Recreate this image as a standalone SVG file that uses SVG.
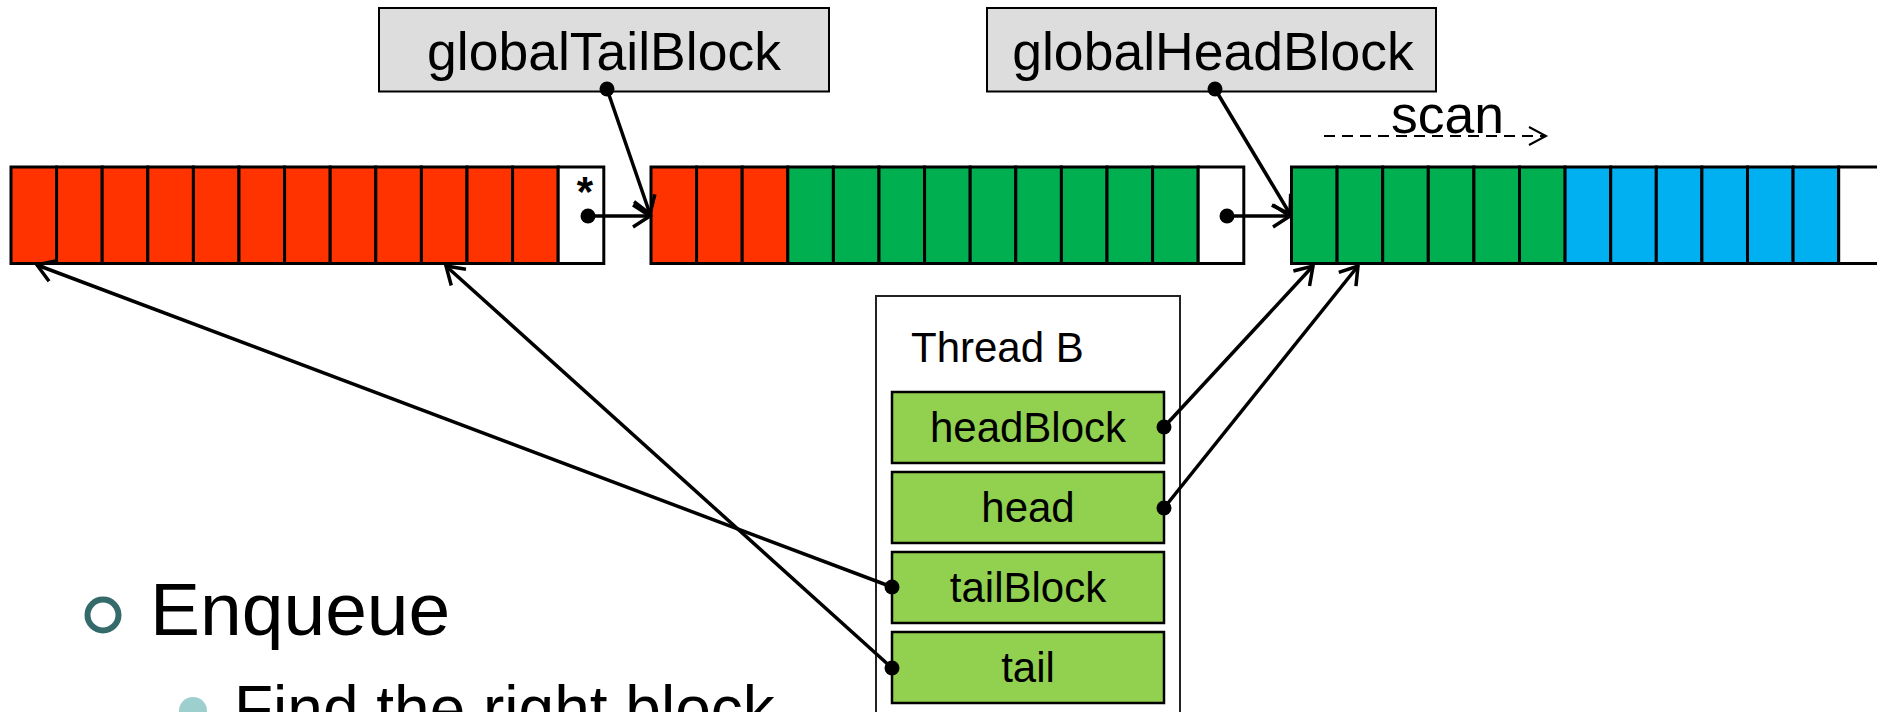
<svg xmlns="http://www.w3.org/2000/svg" width="1877" height="712" viewBox="0 0 1877 712">
<style>
text{font-family:"Liberation Sans",Arial,sans-serif;fill:#000}
.c{stroke:#000;stroke-width:3}
.r{fill:#FF3300}.g{fill:#00B050}.b{fill:#00B0F0}.w{fill:#FFFFFF}
.gl{fill:#DDDDDD;stroke:#000;stroke-width:2}
.var{fill:#92D050;stroke:#000;stroke-width:2.5}
.ln{stroke:#000;stroke-width:3.5;fill:none}
.big{font-size:53.5px}
.mid{font-size:42px}
</style>
<defs>
<marker id="arr" markerUnits="userSpaceOnUse" markerWidth="40" markerHeight="40" refX="20" refY="20" orient="auto" overflow="visible">
<path d="M3,9 L20,20 L3,31" fill="none" stroke="#000" stroke-width="3.5" stroke-linejoin="miter"/>
</marker>
<marker id="arrs" markerUnits="userSpaceOnUse" markerWidth="40" markerHeight="40" refX="20" refY="20" orient="auto" overflow="visible">
<path d="M3,11 L20,20 L3,29" fill="none" stroke="#000" stroke-width="2"/>
</marker>
</defs>
<rect width="1877" height="712" fill="#FFFFFF"/>

<g id="block1">
<rect class="c r" x="11" y="167" width="45.6" height="96.5"/>
<rect class="c r" x="56.6" y="167" width="45.6" height="96.5"/>
<rect class="c r" x="102.2" y="167" width="45.6" height="96.5"/>
<rect class="c r" x="147.8" y="167" width="45.6" height="96.5"/>
<rect class="c r" x="193.4" y="167" width="45.6" height="96.5"/>
<rect class="c r" x="239" y="167" width="45.6" height="96.5"/>
<rect class="c r" x="284.6" y="167" width="45.6" height="96.5"/>
<rect class="c r" x="330.2" y="167" width="45.6" height="96.5"/>
<rect class="c r" x="375.8" y="167" width="45.6" height="96.5"/>
<rect class="c r" x="421.4" y="167" width="45.6" height="96.5"/>
<rect class="c r" x="467" y="167" width="45.6" height="96.5"/>
<rect class="c r" x="512.6" y="167" width="45.6" height="96.5"/>
<rect class="c w" x="558.2" y="167" width="45.6" height="96.5"/>
<text x="585" y="206" font-size="42" font-weight="bold" text-anchor="middle">*</text>
</g>

<g id="block2">
<rect class="c r" x="651" y="167" width="45.6" height="96.5"/>
<rect class="c r" x="696.6" y="167" width="45.6" height="96.5"/>
<rect class="c r" x="742.2" y="167" width="45.6" height="96.5"/>
<rect class="c g" x="787.8" y="167" width="45.6" height="96.5"/>
<rect class="c g" x="833.4" y="167" width="45.6" height="96.5"/>
<rect class="c g" x="879" y="167" width="45.6" height="96.5"/>
<rect class="c g" x="924.6" y="167" width="45.6" height="96.5"/>
<rect class="c g" x="970.2" y="167" width="45.6" height="96.5"/>
<rect class="c g" x="1015.8" y="167" width="45.6" height="96.5"/>
<rect class="c g" x="1061.4" y="167" width="45.6" height="96.5"/>
<rect class="c g" x="1107" y="167" width="45.6" height="96.5"/>
<rect class="c g" x="1152.6" y="167" width="45.6" height="96.5"/>
<rect class="c w" x="1198.2" y="167" width="45.6" height="96.5"/>
</g>

<g id="block3">
<rect class="c g" x="1291.5" y="167" width="45.6" height="96.5"/>
<rect class="c g" x="1337.1" y="167" width="45.6" height="96.5"/>
<rect class="c g" x="1382.7" y="167" width="45.6" height="96.5"/>
<rect class="c g" x="1428.3" y="167" width="45.6" height="96.5"/>
<rect class="c g" x="1473.9" y="167" width="45.6" height="96.5"/>
<rect class="c g" x="1519.5" y="167" width="45.6" height="96.5"/>
<rect class="c b" x="1565.1" y="167" width="45.6" height="96.5"/>
<rect class="c b" x="1610.7" y="167" width="45.6" height="96.5"/>
<rect class="c b" x="1656.3" y="167" width="45.6" height="96.5"/>
<rect class="c b" x="1701.9" y="167" width="45.6" height="96.5"/>
<rect class="c b" x="1747.5" y="167" width="45.6" height="96.5"/>
<rect class="c b" x="1793.1" y="167" width="45.6" height="96.5"/>
<rect class="c w" x="1838.7" y="167" width="45.6" height="96.5"/>
</g>

<g id="globalTailBlock">
<rect class="gl" x="379" y="8" width="450" height="83.5"/>
<text class="big" x="604" y="70" text-anchor="middle">globalTailBlock</text>
</g>

<g id="globalHeadBlock">
<rect class="gl" x="987" y="8" width="449" height="83.5"/>
<text class="big" x="1213" y="70" text-anchor="middle">globalHeadBlock</text>
</g>

<g id="scan">
<line x1="1324" y1="136" x2="1546" y2="136" stroke="#000" stroke-width="2" stroke-dasharray="11,7" marker-end="url(#arrs)"/>
<text class="big" x="1391" y="133">scan</text>
</g>

<g id="threadB">
<rect x="876" y="296" width="304" height="430" fill="#FFFFFF" stroke="#222" stroke-width="2"/>
<text class="mid" x="911" y="362">Thread B</text>
</g>
<g id="headBlock">
<rect class="var" x="892" y="392" width="272" height="71"/>
<text class="mid" x="1028" y="442" text-anchor="middle">headBlock</text>
</g>
<g id="head">
<rect class="var" x="892" y="472" width="272" height="71"/>
<text class="mid" x="1028" y="522" text-anchor="middle">head</text>
</g>
<g id="tailBlock">
<rect class="var" x="892" y="552" width="272" height="71"/>
<text class="mid" x="1028" y="602" text-anchor="middle">tailBlock</text>
</g>
<g id="tail">
<rect class="var" x="892" y="632" width="272" height="71"/>
<text class="mid" x="1028" y="682" text-anchor="middle">tail</text>
</g>

<g id="connectors">
<line class="ln" x1="588" y1="216" x2="650" y2="216" marker-end="url(#arr)"/>
<line class="ln" x1="1227" y1="216" x2="1290" y2="216" marker-end="url(#arr)"/>
<line class="ln" x1="607" y1="89" x2="650" y2="214" marker-end="url(#arr)"/>
<line class="ln" x1="1215" y1="89" x2="1290" y2="214" marker-end="url(#arr)"/>
<line class="ln" x1="1164" y1="427" x2="1313" y2="266" marker-end="url(#arr)"/>
<line class="ln" x1="1164" y1="508" x2="1358" y2="266" marker-end="url(#arr)"/>
<line class="ln" x1="892" y1="587" x2="37" y2="265" marker-end="url(#arr)"/>
<line class="ln" x1="892" y1="668" x2="446" y2="266" marker-end="url(#arr)"/>
<circle cx="588" cy="216" r="7.5"/>
<circle cx="1227" cy="216" r="7.5"/>
<circle cx="607" cy="89" r="7.5"/>
<circle cx="1215" cy="89" r="7.5"/>
<circle cx="1164" cy="427" r="7.5"/>
<circle cx="1164" cy="508" r="7.5"/>
<circle cx="892" cy="587" r="7.5"/>
<circle cx="892" cy="668" r="7.5"/>
</g>

<g id="bullets">
<circle cx="103" cy="615" r="15.5" fill="none" stroke="#356A6A" stroke-width="6"/>
<text x="150" y="635" font-size="75">Enqueue</text>
<circle cx="193" cy="711" r="14" fill="#9ECFCF"/>
<text x="234" y="731" font-size="64">Find the right block</text>
</g>
</svg>
